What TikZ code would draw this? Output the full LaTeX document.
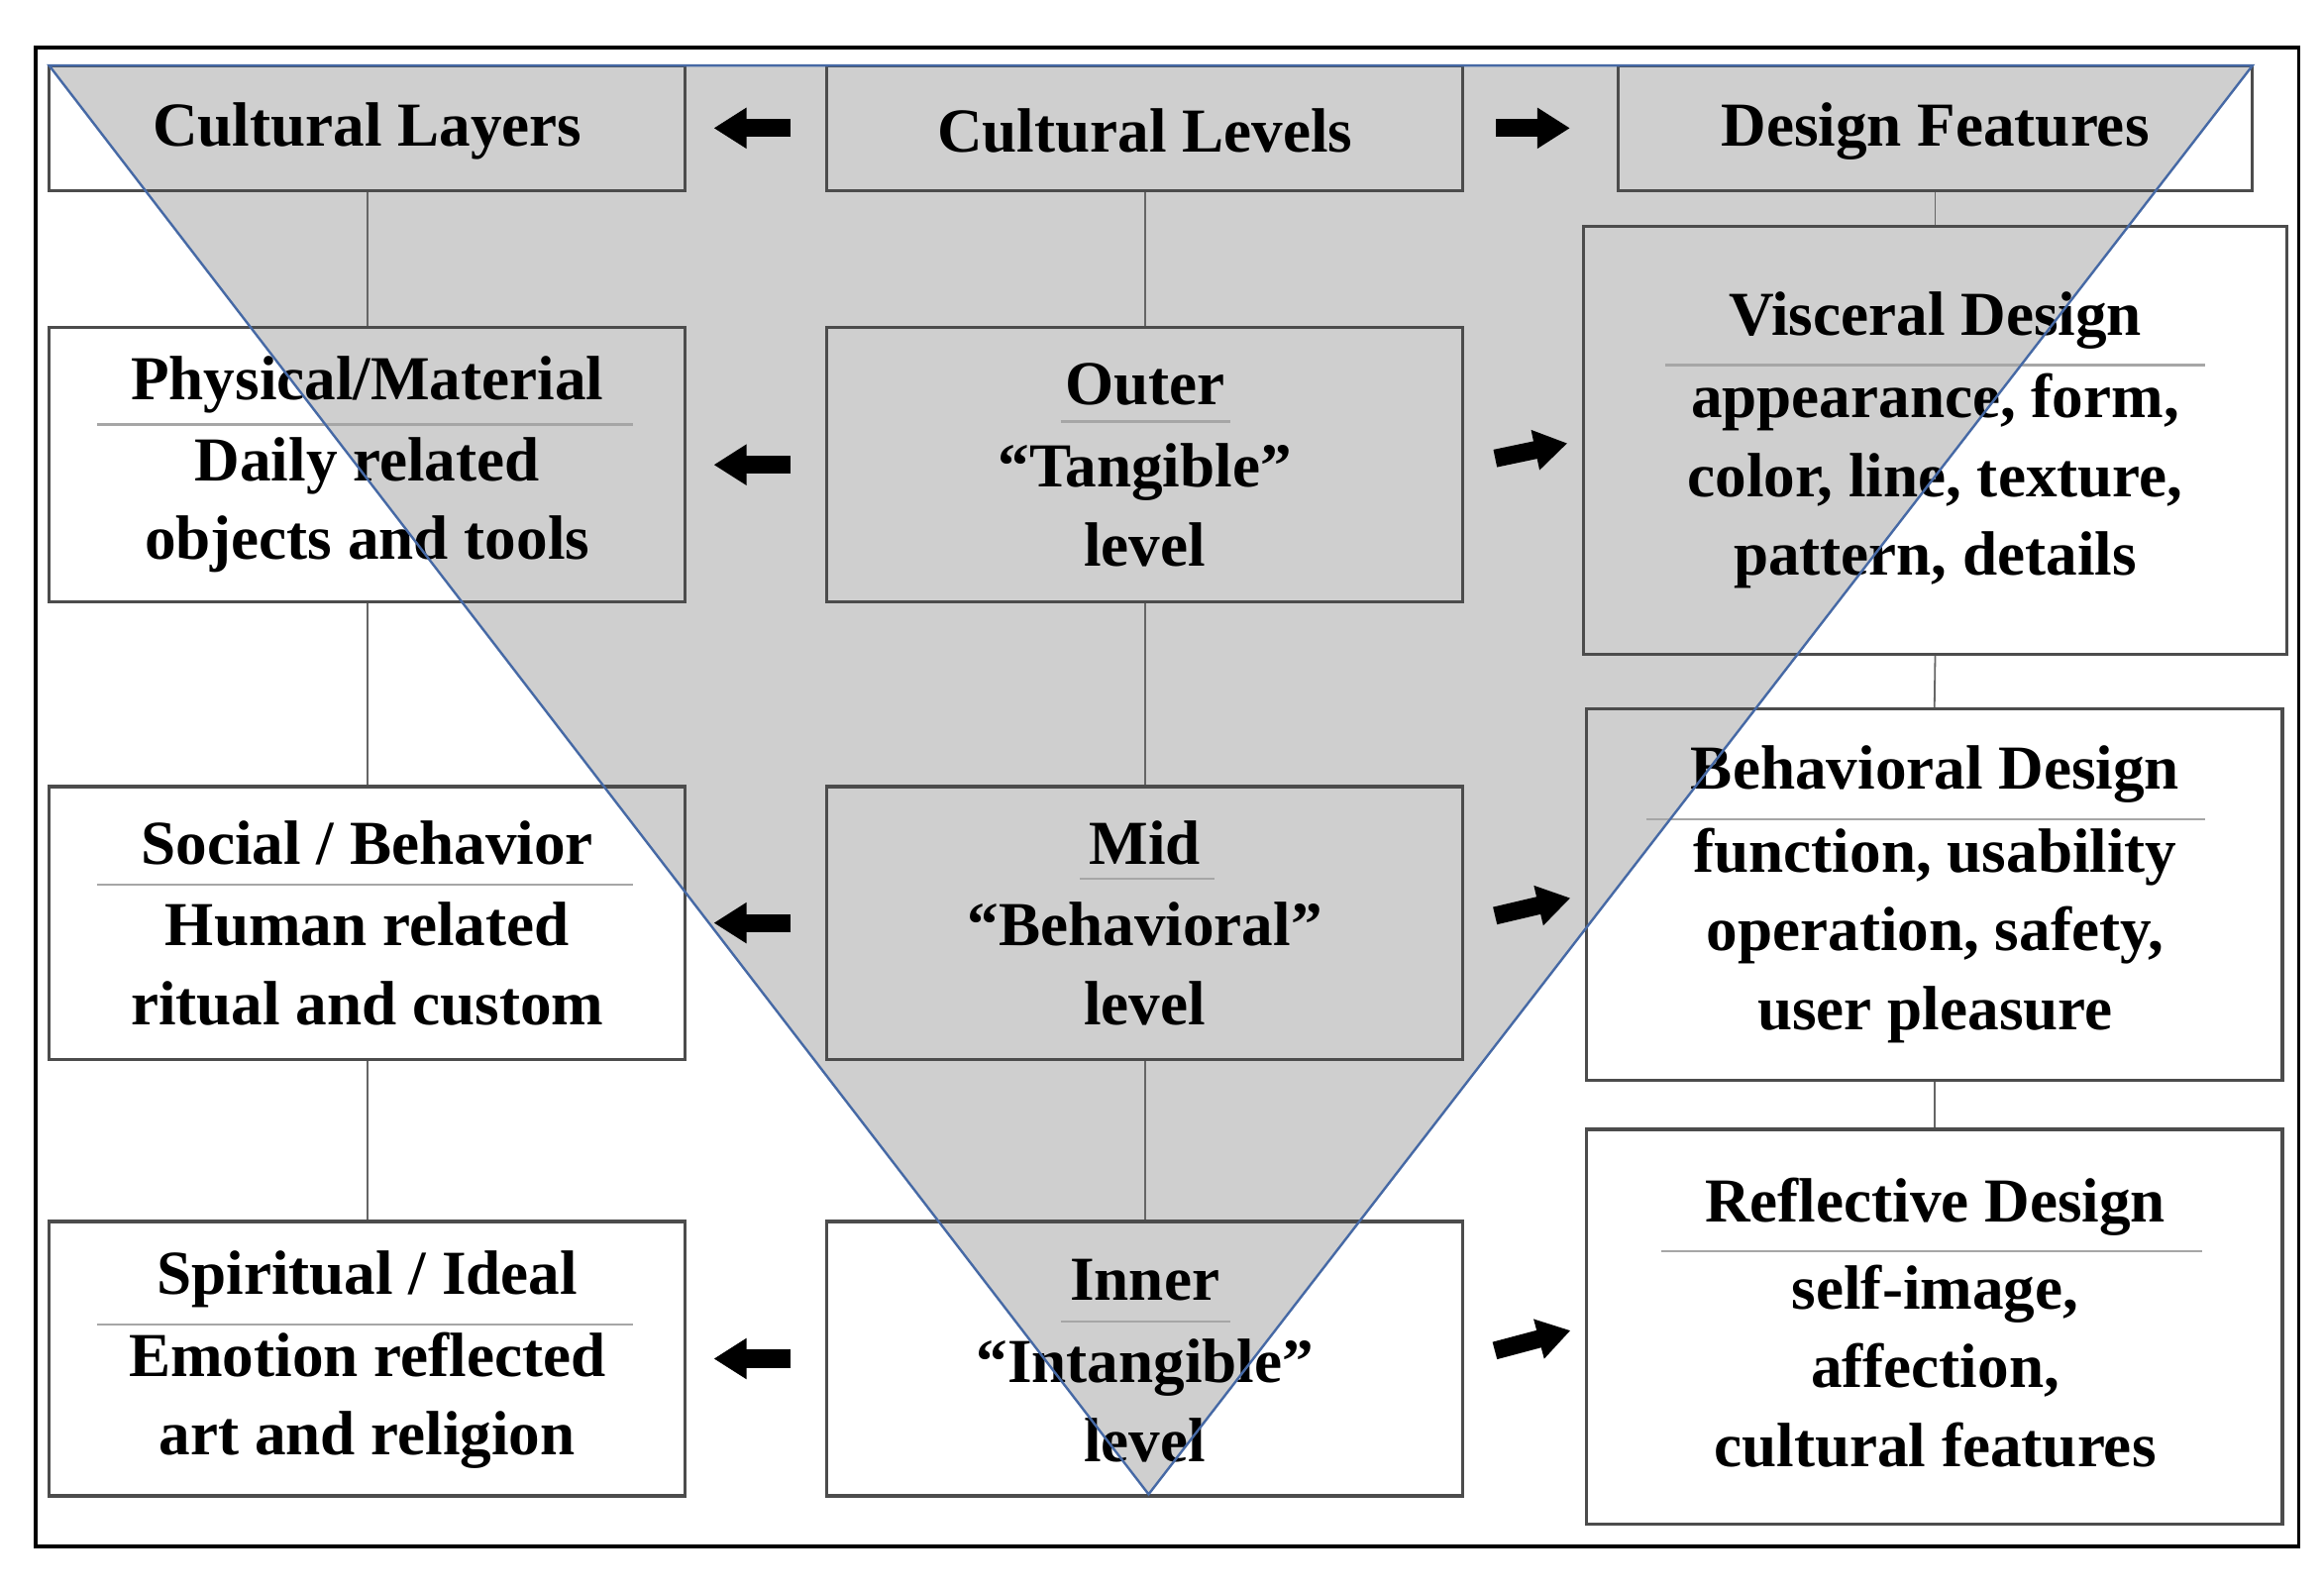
\documentclass[tikz,border=0pt]{standalone}
\usepackage{fontspec}
\setmainfont{Liberation Serif}
\usetikzlibrary{arrows.meta}
\begin{document}
\begin{tikzpicture}[x=0.5pt,y=-0.5pt,
 box/.style={draw=black!70,line width=1.1pt,inner sep=0pt},
 txt/.style={font=\bfseries\fontsize{21}{26.5}\selectfont,align=center,inner sep=0pt},
 rl/.style={draw=black!35,line width=0.8pt},
 cn/.style={draw=black!60,line width=0.6pt},
 ar/.style={line width=6pt,-{Triangle[length=11pt,width=13pt]}}]
\useasboundingbox (0,0) rectangle (1560,1068);
\fill[white] (0,0) rectangle (1560,1068);
\draw[line width=1.2pt] (24,32) rectangle (1543,1038);
\coordinate (tl) at (33,44); \coordinate (tr) at (1512,44); \coordinate (tb) at (771,1003);
\fill[black!19] (tl) -- (tr) -- (tb) -- cycle;
% left column
\node[box,minimum width=213.5pt,minimum height=42pt] (L1) at (246.5,86) {};
\node[box,minimum width=213.5pt,minimum height=92pt] (L2) at (246.5,312) {};
\node[box,minimum width=213.5pt,minimum height=91.5pt] (L3) at (246.5,619.5) {};
\node[box,minimum width=213.5pt,minimum height=92pt] (L4) at (246.5,912) {};
% middle
\node[box,minimum width=213.5pt,minimum height=42pt] (M1) at (768.5,86) {};
\node[box,minimum width=213.5pt,minimum height=92pt] (M2) at (768.5,312) {};
\node[box,minimum width=213.5pt,minimum height=91.5pt] (M3) at (768.5,619.5) {};
\node[box,minimum width=213.5pt,minimum height=92pt] (M4) at (768.5,912) {};
% right
\node[box,minimum width=213pt,minimum height=42pt] (R1) at (1299,86) {};
\node[box,minimum width=236pt,minimum height=143.5pt] (R2) at (1299,295.5) {};
\node[box,minimum width=233.5pt,minimum height=124.5pt] (R3) at (1298.5,600.5) {};
\node[box,minimum width=233.5pt,minimum height=132.5pt] (R4) at (1298.5,890.5) {};
% connectors
\foreach \a/\b in {L1/L2,L2/L3,L3/L4,M1/M2,M2/M3,M3/M4,R1/R2,R2/R3,R3/R4}
 \draw[cn] (\a.south) -- (\b.north);
% arrows
\foreach \i in {1,2,3,4}{
 \draw[ar,shorten <=23pt*0.5,shorten >=18pt*0.5] (M\i.west) -- (L\i.east);}
\draw[ar,shorten <=10.5pt,shorten >=15.5pt] (M1.east) -- (R1.west);
\foreach \i in {2,3,4}{
 \draw[ar,shorten <=10.5pt,shorten >=5pt] (M\i.east) -- (R\i.west);}
% row 1 texts
\node[txt] (t1) at (246.5,88) {Cultural Layers};
\node[txt] (t2) at (768.5,88) {Cultural Levels};
\node[txt] (t3) at (1299,88) {Design Features};
% left texts
\node[txt] (lh2) at (246.5,258) {Physical/Material};
\draw[rl] (65,285) -- (425,285);
\node[txt] (lb2) at (246.5,339) {Daily related\\objects and tools};
\node[txt] (lh3) at (246.5,566) {Social / Behavior};
\draw[rl] (65,594) -- (425,594);
\node[txt] (lb3) at (246.5,647) {Human related\\ritual and custom};
\node[txt] (lh4) at (246.5,859) {Spiritual / Ideal};
\draw[rl] (65,889) -- (425,889);
\node[txt] (lb4) at (246.5,940) {Emotion reflected\\art and religion};
% middle texts
\node[txt] (mh2) at (768.5,258) {Outer};
\draw[rl] (712,283) -- (826,283);
\node[txt] (mb2) at (768.5,339) {“Tangible”\\level};
\node[txt] (mh3) at (768.5,566) {Mid};
\draw[rl] (725,590) -- (815,590);
\node[txt] (mb3) at (768.5,647) {“Behavioral”\\level};
\node[txt] (mh4) at (768.5,859) {Inner};
\draw[rl] (712,887) -- (826,887);
\node[txt] (mb4) at (768.5,940) {“Intangible”\\level};
% right texts
\node[txt] (rh2) at (1299,215) {Visceral Design};
\draw[rl] (1118,245) -- (1480,245);
\node[txt] (rb2) at (1299,323) {appearance, form,\\color, line, texture,\\pattern, details};
\node[txt] (rh3) at (1299,520) {Behavioral Design};
\draw[rl] (1105,550) -- (1480,550);
\node[txt] (rb3) at (1299,628) {function, usability\\operation, safety,\\user pleasure};
\node[txt] (rh4) at (1299,810) {Reflective Design};
\draw[rl] (1115,840) -- (1478,840);
\node[txt] (rb4) at (1299,917) {self-image,\\affection,\\cultural features};
% triangle edges on top
\draw[color={rgb,255:red,70;green,105;blue,165},line width=0.8pt] (tl) -- (tr) -- (tb) -- cycle;
\end{tikzpicture}
\end{document}
